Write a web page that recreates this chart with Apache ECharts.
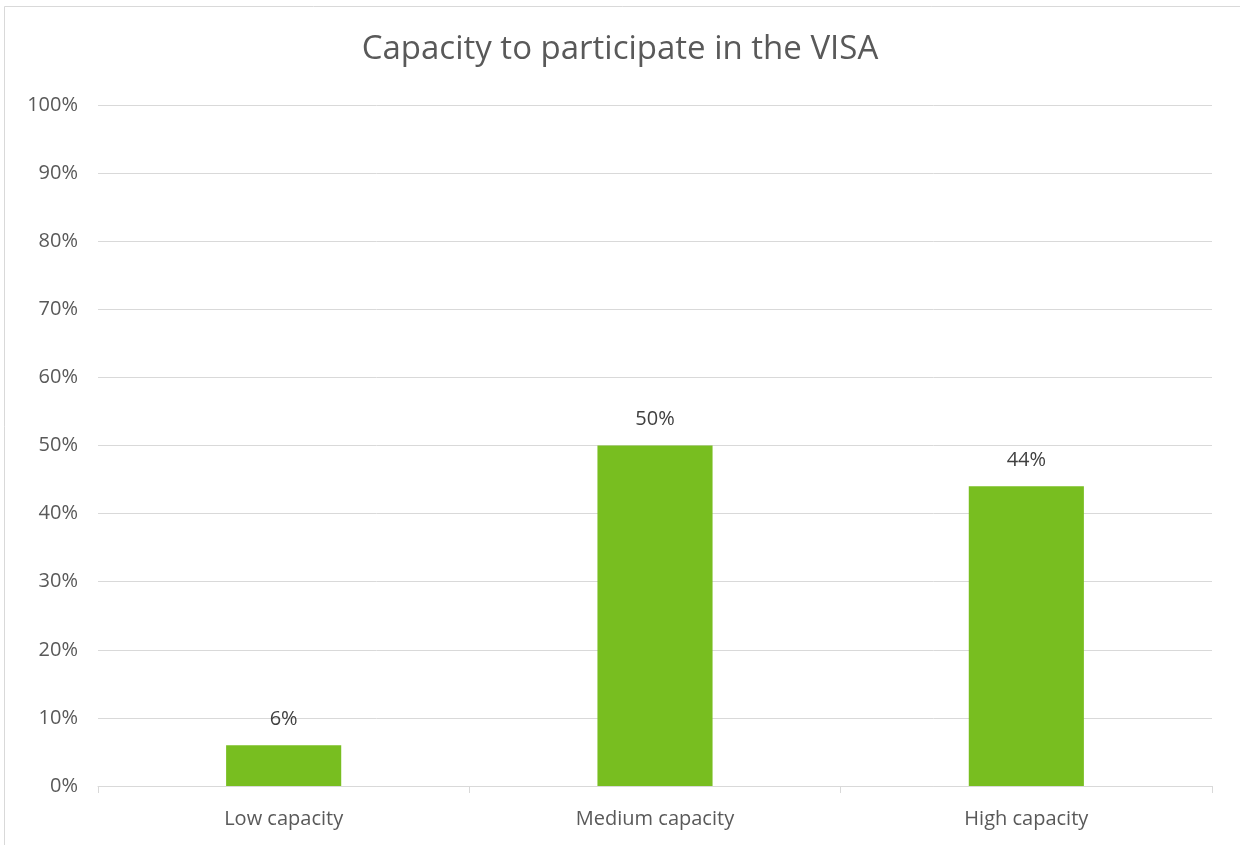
<!DOCTYPE html>
<html>
<head>
<meta charset="utf-8">
<script src="https://cdn.jsdelivr.net/npm/echarts@6/dist/echarts.min.js"></script>
<style>
  html, body { margin: 0; padding: 0; background: #fff; }
  #chart { width: 1240px; height: 845px; }
</style>
</head>
<body>
<div id="chart"></div>
<script>
const categories = ['Low capacity', 'Medium capacity', 'High capacity'];
const shares = [6, 50, 44];
const yTicks = [0, 10, 20, 30, 40, 50, 60, 70, 80, 90, 100];

const chart = echarts.init(document.getElementById('chart'));
const textColor = '#595959';
const fontFamily = '"Open Sans", "Noto Sans", sans-serif';

chart.setOption({
  animation: false,
  backgroundColor: '#fff',
  title: {
    text: 'Capacity to participate in the VISA',
    left: 'center',
    top: 28,
    textStyle: { color: textColor, fontSize: 33, fontWeight: 'normal', fontFamily: fontFamily }
  },
  graphic: [{
    type: 'rect',
    shape: { x: 4.5, y: 6.5, width: 1300, height: 900 },
    style: { fill: 'none', stroke: '#d9d9d9', lineWidth: 1 },
    silent: true
  }],
  grid: { left: 98, right: 28, top: 105, bottom: 59 },
  xAxis: {
    type: 'category',
    data: categories,
    axisLine: { lineStyle: { color: '#d9d9d9', width: 1 } },
    axisTick: { show: true, length: 7, alignWithLabel: false, lineStyle: { color: '#d9d9d9' } },
    axisLabel: { color: textColor, fontSize: 20, fontFamily: fontFamily, margin: 23 }
  },
  yAxis: {
    type: 'value',
    min: yTicks[0],
    max: yTicks[yTicks.length - 1],
    interval: 10,
    axisLine: { show: false },
    axisTick: { show: false },
    splitLine: { lineStyle: { color: '#d9d9d9', width: 1 } },
    axisLabel: { color: textColor, fontSize: 20, fontFamily: fontFamily, margin: 20, formatter: '{value}%' }
  },
  series: [{
    type: 'bar',
    data: shares,
    barWidth: '31%',
    itemStyle: { color: '#78BE20' },
    label: {
      show: true,
      position: 'top',
      distance: 16,
      formatter: '{c}%',
      color: '#404040',
      fontSize: 20,
      fontFamily: fontFamily
    }
  }]
});
</script>
</body>
</html>
